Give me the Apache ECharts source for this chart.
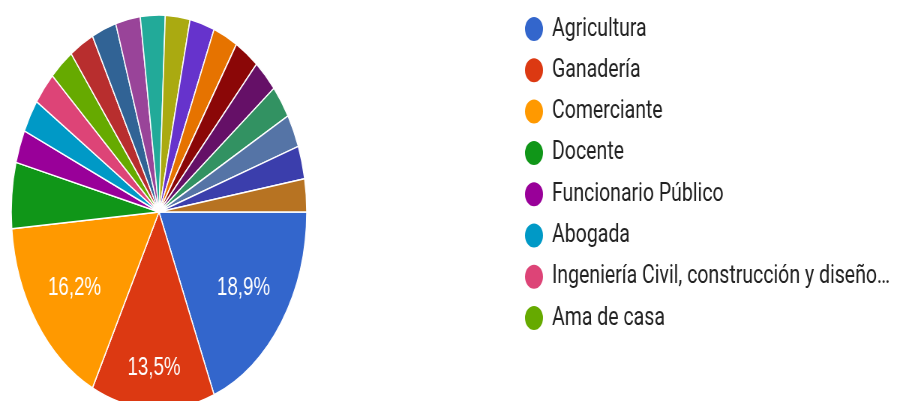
<!DOCTYPE html>
<html>
<head>
<meta charset="utf-8">
<script src="https://cdn.jsdelivr.net/npm/echarts@6/dist/echarts.min.js"></script>
<style>
  html, body { margin: 0; padding: 0; background: #fff; overflow: hidden; }
  #wrap { width: 905px; height: 401px; overflow: hidden; position: relative; }
  /* the chart is laid out wide and squeezed horizontally */
  #chart { width: 1207px; height: 401px; transform: scaleX(0.75); transform-origin: 0 0; }
</style>
</head>
<body>
<div id="wrap"><div id="chart"></div></div>
<script>
// Ocupación de los encuestados (n = 37)
const categories = [
  'Agricultura', 'Ganadería', 'Comerciante', 'Docente', 'Funcionario Público',
  'Abogada', 'Ingeniería Civil, construcción y diseño…', 'Ama de casa',
  'Ocupación 9', 'Ocupación 10', 'Ocupación 11', 'Ocupación 12', 'Ocupación 13',
  'Ocupación 14', 'Ocupación 15', 'Ocupación 16', 'Ocupación 17', 'Ocupación 18',
  'Ocupación 19', 'Ocupación 20', 'Ocupación 21'
];
const counts = [7, 5, 6, 2, 1, 1, 1, 1, 1, 1, 1, 1, 1, 1, 1, 1, 1, 1, 1, 1, 1];
const palette = [
  '#3366cc', '#dc3912', '#ff9900', '#109618', '#990099', '#0099c6', '#dd4477',
  '#66aa00', '#b82e2e', '#316395', '#994499', '#22aa99', '#aaaa11', '#6633cc',
  '#e67300', '#8b0707', '#651067', '#329262', '#5574a6', '#3b3eac', '#b77322'
];
const legendNames = categories.slice(0, 8);
// slices whose percentage is printed, split by label ring
const labelOuterRing = ['Ganadería'];
const labelInnerRing = ['Agricultura', 'Comerciante'];

const CX = 212, CY = 212, R = 197;

const pieData = categories.map((name, i) => ({
  name, value: counts[i], itemStyle: { color: palette[i] }
}));

function fmtPct(p) {
  return p.toFixed(1).replace('.', ',') + '%';
}

function labelRing(names, r0) {
  return {
    type: 'pie',
    silent: true,
    center: [CX, CY],
    radius: [r0, R],
    startAngle: 0,
    clockwise: true,
    avoidLabelOverlap: false,
    emphasis: { disabled: true },
    itemStyle: { color: 'rgba(0,0,0,0)', borderWidth: 0 },
    labelLine: { show: false },
    data: categories.map((name, i) => ({
      name, value: counts[i],
      itemStyle: { color: 'rgba(0,0,0,0)' },
      label: { show: names.includes(name) }
    })),
    label: {
      position: 'inside',
      color: '#ffffff',
      fontFamily: 'Liberation Sans',
      fontSize: 25,
      formatter: p => fmtPct(p.percent)
    }
  };
}

const chart = echarts.init(document.getElementById('chart'), null, { renderer: 'canvas' });
chart.setOption({
  animation: false,
  backgroundColor: '#ffffff',
  color: palette,
  legend: {
    data: legendNames,
    orient: 'vertical',
    left: 693,
    top: 10,
    icon: 'circle',
    itemWidth: 26,
    itemHeight: 26,
    itemGap: 13.3,
    selectedMode: false,
    textStyle: {
      color: '#222222',
      fontFamily: 'Roboto',
      fontSize: 26,
      lineHeight: 26,
      padding: [0, 0, 0, 6]
    }
  },
  series: [
    {
      type: 'pie',
      center: [CX, CY],
      radius: [0, R],
      startAngle: 0,
      clockwise: true,
      silent: true,
      emphasis: { disabled: true },
      itemStyle: { borderColor: '#ffffff', borderWidth: 1.5 },
      label: { show: false },
      labelLine: { show: false },
      data: pieData
    },
    labelRing(labelInnerRing, 69),
    labelRing(labelOuterRing, 109)
  ]
});
</script>
</body>
</html>
